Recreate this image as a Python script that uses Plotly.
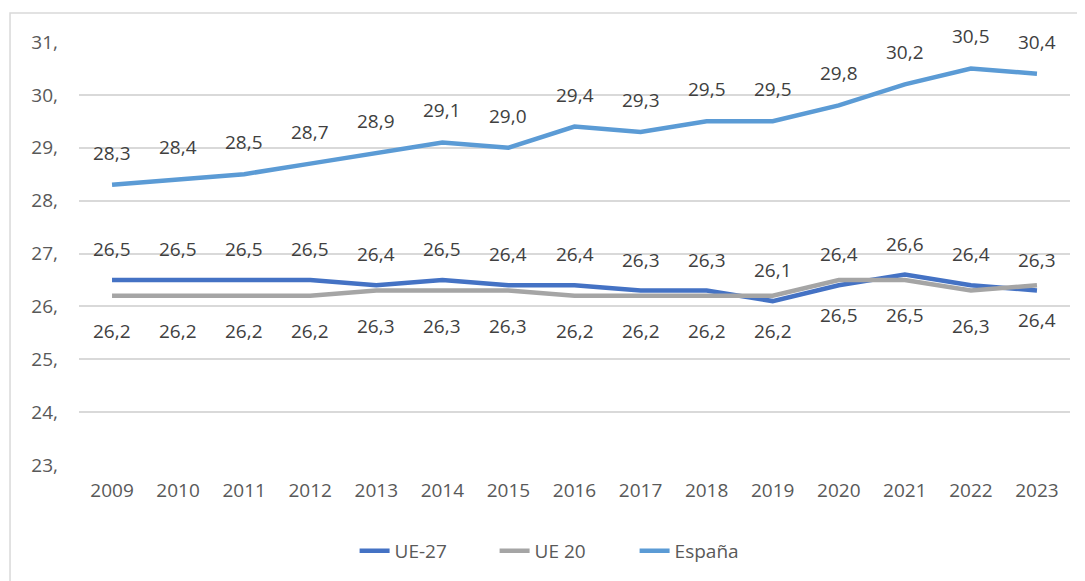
import plotly.graph_objects as go

years = list(range(2009, 2024))
ue27 = [26.5, 26.5, 26.5, 26.5, 26.4, 26.5, 26.4, 26.4, 26.3, 26.3, 26.1, 26.4, 26.6, 26.4, 26.3]
ue20 = [26.2, 26.2, 26.2, 26.2, 26.3, 26.3, 26.3, 26.2, 26.2, 26.2, 26.2, 26.5, 26.5, 26.3, 26.4]
espana = [28.3, 28.4, 28.5, 28.7, 28.9, 29.1, 29.0, 29.4, 29.3, 29.5, 29.5, 29.8, 30.2, 30.5, 30.4]
yticks = [23, 24, 25, 26, 27, 28, 29, 30, 31]
yticklabels = [f"{v}," for v in yticks]

C_UE27 = "#4472C4"
C_UE20 = "#A5A5A5"
C_ESP = "#5B9BD5"
FONT = "Open Sans"

fig = go.Figure()
for name, vals, col in [("UE-27", ue27, C_UE27), ("UE 20", ue20, C_UE20), ("España", espana, C_ESP)]:
    fig.add_trace(go.Scatter(x=years, y=vals, name=name, mode="lines",
                             line=dict(color=col, width=4.5), hoverinfo="skip"))

def fmt(v):
    return f"{v:.1f}".replace(".", ",")

annots = []
for vals, shift in [(espana, 32), (ue27, 31), (ue20, -35)]:
    for x, v in zip(years, vals):
        annots.append(dict(x=x, y=v, xref="x", yref="y", text=fmt(v), showarrow=False,
                           yshift=shift, font=dict(family=FONT, size=19, color="#404040")))

fig.update_layout(
    width=1077, height=573,
    margin=dict(l=71, r=15, t=34, b=115),
    paper_bgcolor="white", plot_bgcolor="white",
    font=dict(family=FONT, size=19, color="#595959"),
    annotations=annots,
    showlegend=True,
    legend=dict(orientation="h", x=0.49, xanchor="center", y=-0.2, yanchor="middle",
                font=dict(family=FONT, size=19, color="#595959"),
                entrywidth=95, entrywidthmode="pixels",
                traceorder="normal"),
    xaxis=dict(range=[2008.5, 2023.5], tickvals=years, ticktext=[str(y) for y in years],
               showgrid=False, showline=False, zeroline=False, ticks="",
               tickfont=dict(family=FONT, size=19, color="#595959"), ticklabelstandoff=12),
    yaxis=dict(range=[23, 31], tickvals=yticks, ticktext=yticklabels, showgrid=True,
               gridcolor="#D9D9D9", gridwidth=1.5, zeroline=False, showline=False, ticks="",
               tickfont=dict(family=FONT, size=19, color="#595959"), ticklabelstandoff=20),
    shapes=[dict(type="rect", xref="paper", yref="paper", x0=-0.0696, x1=1.2,
                 y0=-0.6, y1=1.0684, line=dict(color="#D9D9D9", width=1.5), layer="below")],
)

fig.write_html("out.html")
